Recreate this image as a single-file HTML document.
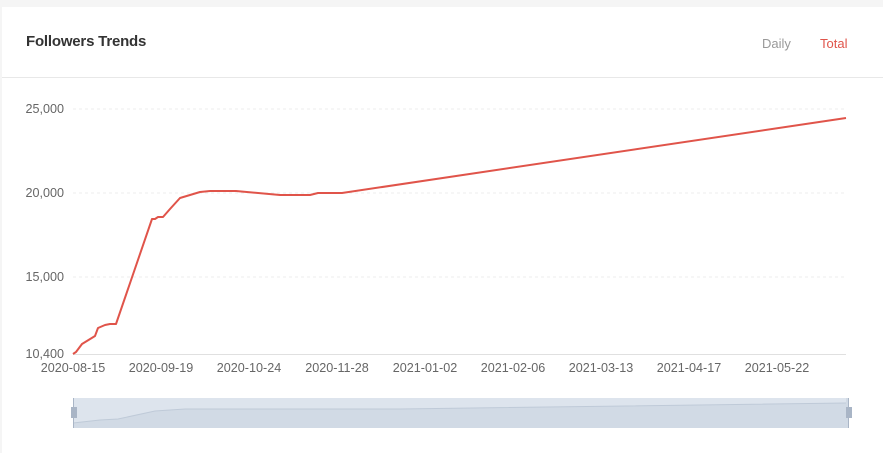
<!DOCTYPE html>
<html><head><style>
body{margin:0;width:883px;height:453px;background:#f5f5f5;font-family:"Liberation Sans",sans-serif;overflow:hidden;position:relative}
.card{position:absolute;left:2px;top:7px;width:881px;height:446px;background:#fff}
.t{position:absolute;left:26px;top:33px;font-size:15px;color:#333;font-weight:bold;letter-spacing:-0.2px}
.tab{position:absolute;top:36px;font-size:13px}
</style></head><body>
<div class="card"></div>
<div class="t">Followers Trends</div>
<div class="tab" style="left:762px;color:#999">Daily</div>
<div class="tab" style="left:820px;color:#e0544a">Total</div>
<div style="position:absolute;left:2px;top:77px;width:881px;height:1px;background:#e8e8e8"></div>
<svg width="883" height="453" style="position:absolute;left:0;top:0" font-family="Liberation Sans, sans-serif" font-size="12.6" fill="#666">
<g stroke="#eee" stroke-dasharray="3,3">
<line x1="73" y1="109" x2="846" y2="109"/><line x1="73" y1="193" x2="846" y2="193"/><line x1="73" y1="277" x2="846" y2="277"/>
</g>
<line x1="73" y1="354.5" x2="846" y2="354.5" stroke="#e0e0e0"/>
<g text-anchor="end"><text x="64" y="113">25,000</text><text x="64" y="197">20,000</text><text x="64" y="281">15,000</text><text x="64" y="358">10,400</text></g>
<g text-anchor="middle"><text x="73" y="372">2020-08-15</text><text x="161" y="372">2020-09-19</text><text x="249" y="372">2020-10-24</text><text x="337" y="372">2020-11-28</text><text x="425" y="372">2021-01-02</text><text x="513" y="372">2021-02-06</text><text x="601" y="372">2021-03-13</text><text x="689" y="372">2021-04-17</text><text x="777" y="372">2021-05-22</text></g>
<polyline fill="none" stroke="#e0544a" stroke-width="2" stroke-linejoin="round" points="73,354 76,352 82,344 95,336 98,328 105,325 110,324 116,324 152,219 155,219 158,217 163,217 170,209 180,198 190,195 200,192 210,191 236,191 280,195 310,195 318,193 342,193 846,118"/>
<rect x="73" y="398" width="775" height="30" fill="#d1dae5"/>
<path d="M73,423 L100,420 L118,419 L155,411 L185,409 L400,409 L846,403 L846,398 L73,398Z" fill="#dde4ed"/>
<polyline fill="none" stroke="#bfcad8" points="73,423 100,420 118,419 155,411 185,409 400,409 846,403"/>
<line x1="73.5" y1="398" x2="73.5" y2="428" stroke="#a9b5c6"/><line x1="848.5" y1="398" x2="848.5" y2="428" stroke="#a9b5c6"/>
<rect x="71" y="407" width="6" height="11" fill="#a9b5c6"/><rect x="846" y="407" width="6" height="11" fill="#a9b5c6"/>
</svg>
</body></html>
